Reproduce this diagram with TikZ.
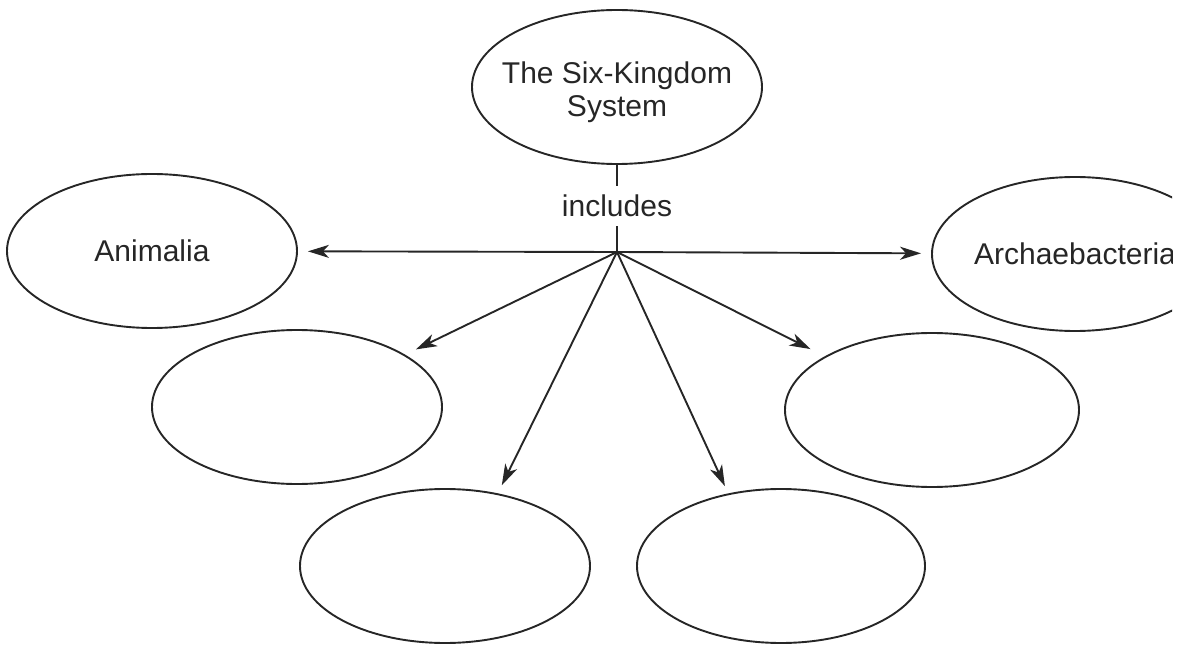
\documentclass[tikz,border=0pt]{standalone}
\usepackage{fontspec}
\setmainfont{Liberation Sans}
\usetikzlibrary{shapes.geometric,arrows.meta}
\definecolor{inkc}{HTML}{262626}
\begin{document}
\begin{tikzpicture}[x=1bp,y=-1bp,
  kingdom/.style={ellipse, draw=inkc, line width=1.9bp, minimum width=290bp, minimum height=154bp,
     inner xsep=-40bp, inner ysep=0pt, align=center, text=inkc,
     font=\fontsize{30bp}{33bp}\selectfont},
  linklabel/.style={inner xsep=2bp, inner ysep=9bp, text=inkc, font=\fontsize{30bp}{33bp}\selectfont},
  conn/.style={draw=inkc, line width=1.9bp},
  arr/.style={conn, -{Stealth[length=21bp, width=13bp, inset=6bp]}}]
\useasboundingbox (0,0) rectangle (1182,646);
\begin{scope}
\clip (0,0) rectangle (1172,646);
\node[kingdom] (top) at (617,87) {\rule{0pt}{32bp}The Six-Kingdom\\System};
\node[kingdom] (an) at (152,251) {Animalia};
\node[kingdom, minimum width=286bp] (ar) at (1075,254) {Archaebacteria};
\node[kingdom] (ml) at (297,407) {};
\node[kingdom, minimum width=294bp] (mr) at (932,410) {};
\node[kingdom] (bl) at (445,566) {};
\node[kingdom, minimum width=288bp] (br) at (781,566) {};
\node[linklabel, anchor=base] (inc) at (617,217) {includes};
\coordinate (hub) at (617,252);
\draw[conn] (top.south) -- (inc.north);
\draw[conn] (inc.south) -- (hub);
\draw[arr, shorten >=10bp] (hub) -- (an);
\draw[arr, shorten >=10bp] (hub) -- (ar);
\draw[arr, shorten >=12bp] (hub) -- (ml);
\draw[arr, shorten >=16bp] (hub) -- (mr);
\draw[arr, shorten >=9bp] (hub) -- (bl.54);
\draw[arr, shorten >=8bp] (hub) -- (br.126);
\end{scope}
\end{tikzpicture}
\end{document}
